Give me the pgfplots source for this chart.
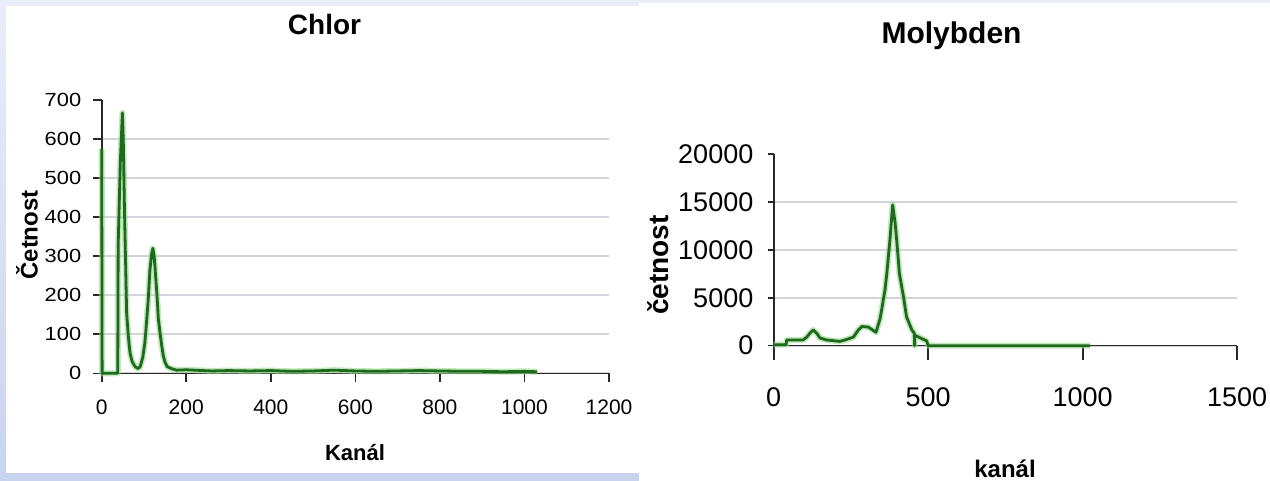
\documentclass[border=0pt]{standalone}
\usepackage{fontspec}
\setmainfont{Liberation Sans}
\usepackage{pgfplots}
\usepackage{pgfplotstable}
\pgfplotsset{compat=1.18}

\definecolor{lineg}{RGB}{30,105,30}
\definecolor{glowg}{RGB}{150,220,140}
\definecolor{bgtop}{RGB}{233,237,248}
\definecolor{bgbot}{RGB}{200,212,238}
\definecolor{gridc}{RGB}{212,212,220}
\definecolor{axc}{RGB}{40,40,40}

\newcommand\fs[1]{\fontsize{#1}{#1}\selectfont}

\pgfplotstableread{
x y
0 575
1 0
38 0
39 330
44 540
49 667
51 600
54 410
57 260
59 154
63 95
67 52
72 30
79 17
86 12
91 17
97 40
102 77
106 130
110 188
114 264
118 305
121 320
124 300
126 273
131 196
134 140
138 103
142 70
146 43
150 28
155 17
165 12
177 8
200 9
220 8
260 6
300 7
350 6
400 7
450 5
500 6
550 8
600 6
650 5
700 6
750 7
800 6
850 5
900 5
950 4
1000 5
1030 4
}\chlor

\pgfplotstableread{
x y
0 100
40 100
42 600
95 600
107 900
117 1300
128 1650
139 1300
150 800
171 600
214 450
236 650
258 900
274 1650
285 2000
306 1950
322 1600
331 1400
344 2800
349 3700
360 5800
366 7500
376 11000
385 14700
393 12800
398 11000
407 7500
420 5100
430 3000
447 1650
455 1300
456 0
457 1100
475 800
495 500
500 0
1024 0
}\molyb

\pgfplotsset{
  common/.style={
    scale only axis,
    clip=false,
    axis x line=bottom, axis y line=left,
    axis line style={-, axc, line width=0.8bp},
    tick style={axc, line width=0.8bp},
    tick align=outside,
    ymajorgrids,
    grid style={gridc, line width=1bp},
    scaled y ticks=false, scaled x ticks=false,
    /pgf/number format/1000 sep={},
    /pgf/number format/assume math mode=true,
    minor tick num=0,
  },
}

\begin{document}
\begin{tikzpicture}
\useasboundingbox (0,0) rectangle (635bp,240.5bp);
\shade[top color=bgtop, bottom color=bgbot] (0,0) rectangle (635bp,240.5bp);
\fill[white] (3bp,4.15bp) rectangle (319.25bp,237.5bp);
\fill[white] (319.5bp,0bp) rectangle (635bp,239bp);

% ---------- Chlor ----------
\begin{axis}[common,
  at={(50.85bp,53.85bp)}, anchor=south west,
  width=253.65bp, height=136.65bp,
  xmin=0, xmax=1200, ymin=0, ymax=700,
  xtick={0,200,...,1200},
  ytick={0,100,...,600},
  extra y ticks={700}, extra y tick style={grid=none},
  major tick length=4.5bp,
  xticklabel style={font=\fs{10.5bp}, anchor=north, inner sep=0pt, yshift=-8.5bp},
  yticklabel style={font=\fs{9.5bp}, xscale=1.15, anchor=east, inner sep=0pt, xshift=-4.8bp},
]
\addplot[glowg, opacity=0.6, line width=3bp, line join=round] table[x=x,y=y] {\chlor};
\addplot[lineg, line width=1.4bp, line join=round] table[x=x,y=y] {\chlor};
\end{axis}

% ---------- Molybden ----------
\begin{axis}[common,
  at={(386.85bp,67.65bp)}, anchor=south west,
  width=231.75bp, height=95.8bp,
  xmin=0, xmax=1500, ymin=0, ymax=20000,
  xtick={0,500,1000,1500},
  ytick={0,5000,10000,15000},
  extra y ticks={20000}, extra y tick style={grid=none},
  major tick length=3bp,
  xtick style={/pgfplots/major tick length=7bp},
  xticklabel style={font=\fs{13.5bp}, anchor=north, inner sep=0pt, yshift=-18bp},
  yticklabel style={font=\fs{13.5bp}, anchor=east, inner sep=0pt, xshift=-7bp},
]
\addplot[glowg, opacity=0.6, line width=3bp, line join=round] table[x=x,y=y] {\molyb};
\addplot[lineg, line width=1.4bp, line join=round] table[x=x,y=y] {\molyb};
\end{axis}

% titles and labels
\node[font=\bfseries\fs{14bp}, anchor=base] at (162.25bp,223bp) {Chlor};
\node[font=\bfseries\fs{12bp}, rotate=90] at (13.5bp,123bp) {Četnost};
\node[font=\bfseries\fs{11bp}, anchor=base] at (177.5bp,10.5bp) {Kanál};

\node[font=\bfseries\fs{15bp}, anchor=base] at (475.75bp,218.85bp) {Molybden};
\node[font=\bfseries\fs{14bp}, rotate=90] at (329bp,108bp) {četnost};
\node[font=\bfseries\fs{12bp}, anchor=base] at (502.5bp,2bp) {kanál};
\end{tikzpicture}
\end{document}
